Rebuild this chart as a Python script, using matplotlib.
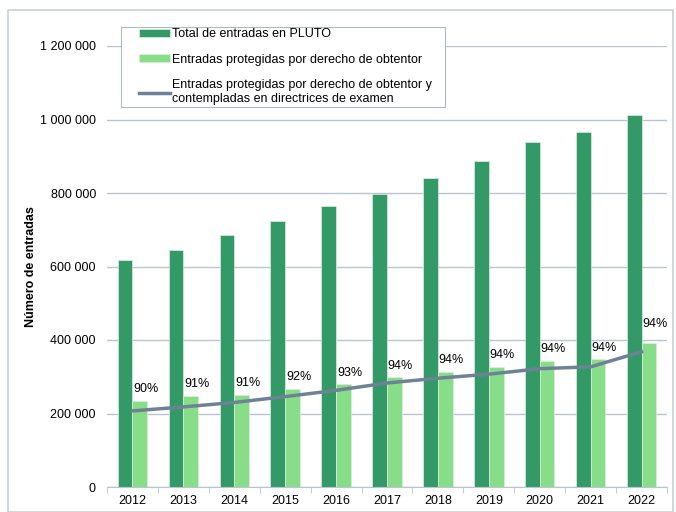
import matplotlib.pyplot as plt
import matplotlib.ticker as mticker
from matplotlib.patches import Rectangle
import numpy as np

plt.rcParams['font.family'] = ['Liberation Sans', 'DejaVu Sans']

years = ["2012", "2013", "2014", "2015", "2016", "2017", "2018", "2019", "2020", "2021", "2022"]
total = [618000, 645000, 686000, 724000, 765000, 797000, 841000, 886000, 938000, 967000, 1012000]
protegidas = [235000, 248000, 251000, 267000, 280000, 298000, 313000, 327000, 343000, 348000, 391000]
directrices = [207000, 218000, 230000, 246000, 263000, 283000, 296000, 307000, 322000, 327000, 368000]
porcentajes = ["90%", "91%", "91%", "92%", "93%", "94%", "94%", "94%", "94%", "94%", "94%"]

c_dark = "#339966"
c_light = "#88DD88"
c_line = "#6E8296"
c_grid = "#B8C4D0"

fig = plt.figure(figsize=(6.76, 5.12), dpi=100)
ax = fig.add_axes([107 / 676, 25 / 512, 560 / 676, 441 / 512])

x = np.arange(len(years))
w = 0.29
b1 = ax.bar(x - w / 2, total, w, color=c_dark, edgecolor="#DDEEDD", linewidth=0.5,
            label="Total de entradas en PLUTO", zorder=2)
b2 = ax.bar(x + w / 2, protegidas, w, color=c_light, edgecolor="#DDEEDD", linewidth=0.5,
            label="Entradas protegidas por derecho de obtentor", zorder=2)
l1, = ax.plot(x, directrices, color=c_line, linewidth=2.5, zorder=3,
              label="Entradas protegidas por derecho de obtentor y\ncontempladas en directrices de examen")

for i, p in enumerate(porcentajes):
    off = 9.5 if i == len(years) - 1 else 4
    ax.annotate(p, (x[i] + w / 2 + 0.12, protegidas[i]), xytext=(0, off),
                textcoords="offset points", ha="center", va="bottom", fontsize=9, zorder=4)

ax.set_xlim(-0.5, len(years) - 0.5)
ax.set_ylim(0, 1200000)
ax.set_yticks(np.arange(0, 1200001, 200000))
ax.yaxis.set_major_formatter(mticker.FuncFormatter(lambda v, _: f"{int(v):,}".replace(",", " ")))
ax.set_xticks(x)
ax.set_xticklabels(years)
ax.set_xticks(np.arange(-0.5, len(years), 1), minor=True)
ax.tick_params(axis="x", which="major", length=0, labelsize=9, pad=6)
ax.tick_params(axis="x", which="minor", length=4, color=c_grid, direction="out")
ax.tick_params(axis="y", length=0, labelsize=9, pad=8)

ax.grid(axis="y", color=c_grid, linewidth=1, zorder=0)
ax.set_axisbelow(True)
for s in ["top", "right", "left"]:
    ax.spines[s].set_visible(False)
ax.spines["bottom"].set_color(c_grid)

ax.set_ylabel("Número de entradas", fontsize=9, fontweight="bold", labelpad=2)

# legend box drawn by hand (wide side padding, tight top/bottom)
ax.add_patch(Rectangle((121 / 676, 405 / 512), 324 / 676, 80 / 512, transform=fig.transFigure,
                       clip_on=False, facecolor="white", edgecolor="#B0B8C0", linewidth=0.8, zorder=4))
leg = ax.legend(handles=[b1, b2, l1], loc="upper left", bbox_to_anchor=(32 / 560, 1 + 18 / 441),
                borderaxespad=0, fontsize=9, frameon=False, handlelength=2.45, handletextpad=0.2,
                labelspacing=1.1, borderpad=0, handleheight=0.6)
leg.set_zorder(5)

fig.patches.append(Rectangle((8 / 676, 0), 665 / 676, 502 / 512, transform=fig.transFigure,
                             fill=False, edgecolor="#C8D0D8", linewidth=1.2))

fig.savefig("out.png", dpi=100)
